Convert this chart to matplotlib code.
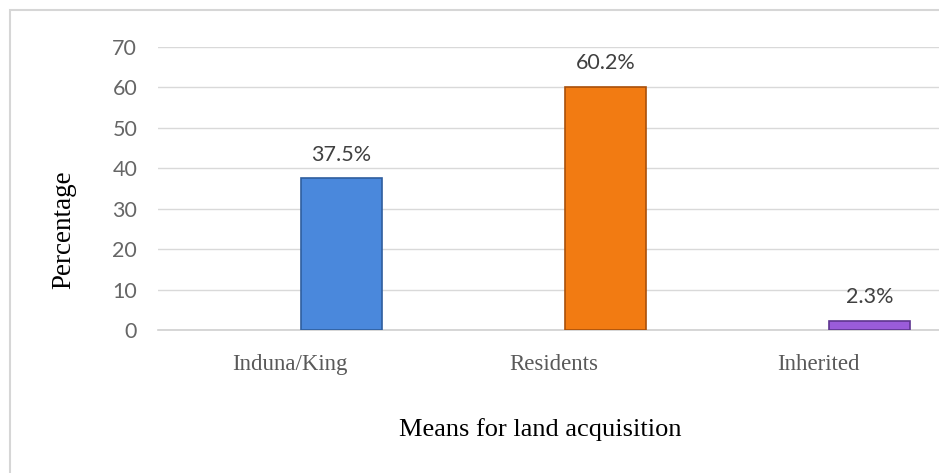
import numpy as np
import matplotlib
matplotlib.use("Agg")
import matplotlib.pyplot as plt
from matplotlib.patches import Rectangle

categories = ["Induna/King", "Residents", "Inherited"]
values = [37.5, 60.2, 2.3]
bar_colors = ["#4A88DC", "#F27B12", "#9A5CDA"]
edge_colors = ["#2F5E9E", "#A9500A", "#5E3590"]
yticks = [0, 10, 20, 30, 40, 50, 60, 70]

fig = plt.figure(figsize=(9.39, 4.73), dpi=100)
ax = fig.add_axes([158 / 939, 1 - 330 / 473, 792 / 939, 283 / 473])

# outer frame of the chart area (runs off the right and bottom)
top = 1 - 10 / 473
fig.patches.append(Rectangle((10 / 939, -0.2), 1.2, top + 0.2,
                             transform=fig.transFigure, fill=False,
                             edgecolor="#D6D6D6", linewidth=1.5))

x = np.arange(len(categories))
offset = 0.195
bars = ax.bar(x + offset, values, width=0.31, color=bar_colors,
              edgecolor=edge_colors, linewidth=1.2, zorder=3)

for b, v in zip(bars, values):
    ax.text(b.get_x() + b.get_width() / 2, v + 5.8, f"{v}%",
            ha="center", va="center", fontsize=15.5, color="#404040",
            family="Lato")

ax.set_xlim(-0.5, 2.5)
ax.set_ylim(0, 70)
ax.set_yticks(yticks)
ax.set_yticklabels([str(t) for t in yticks], family="Lato", fontsize=15.5,
                   color="#666666")
ax.set_xticks(x)
ax.set_xticklabels(categories, family="Liberation Serif", fontsize=16.5,
                   color="#595959")
ax.tick_params(axis="both", length=0)
ax.tick_params(axis="y", pad=15)
ax.tick_params(axis="x", pad=17)

ax.grid(axis="y", color="#D9D9D9", linewidth=1.0, zorder=0)
for s in ["top", "right", "left"]:
    ax.spines[s].set_visible(False)
ax.spines["bottom"].set_color("#D0D0D0")
ax.spines["bottom"].set_linewidth(1.2)

fig.text(64 / 939, 1 - 230 / 473, "Percentage", rotation=90, ha="center",
         va="center", family="Liberation Serif", fontsize=19.5, color="black")
fig.text(540 / 939, 1 - 430 / 473, "Means for land acquisition", ha="center",
         va="center", family="Liberation Serif", fontsize=19, color="black")

fig.savefig("out.png", dpi=100)
